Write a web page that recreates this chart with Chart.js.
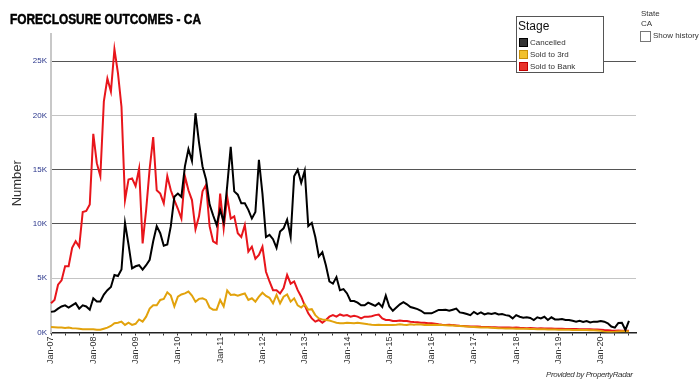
<!DOCTYPE html>
<html><head><meta charset="utf-8">
<script src="https://cdn.jsdelivr.net/npm/chart.js@4/dist/chart.umd.min.js"></script>
<style>
html,body{margin:0;padding:0;background:#fff;}
#wrap{position:relative;width:700px;height:390px;overflow:hidden;font-family:"Liberation Sans",Arial,sans-serif;}
canvas{position:absolute;left:0;top:0;}
.t{position:absolute;white-space:nowrap;line-height:1;}
.sw{position:absolute;left:2px;width:7px;height:7px;border:1px solid #000;}
</style></head><body>
<div id="wrap">
<canvas id="c" width="700" height="390"></canvas>
<div class="t" style="left:10px;top:12px;font-weight:bold;font-size:14px;transform:scaleX(0.85);transform-origin:0 0;color:#000;-webkit-text-stroke:0.5px #000;">FORECLOSURE OUTCOMES - CA</div>
<div style="position:absolute;left:516px;top:16px;width:86px;height:55px;border:1px solid #555;background:#fff;">
  <div class="t" style="left:1px;top:3px;font-size:12px;color:#111;">Stage</div>
  <div class="sw" style="top:21px;background:#333;border-color:#000;"></div>
  <div class="t" style="left:13px;top:22px;font-size:8px;color:#333;">Cancelled</div>
  <div class="sw" style="top:33px;background:#f2c12e;border-color:#c8900a;"></div>
  <div class="t" style="left:13px;top:34px;font-size:8px;color:#333;">Sold to 3rd</div>
  <div class="sw" style="top:45px;background:#e8332a;border-color:#c00000;"></div>
  <div class="t" style="left:13px;top:46px;font-size:8px;color:#333;">Sold to Bank</div>
</div>
<div class="t" style="left:641px;top:10px;font-size:8px;color:#333;">State</div>
<div class="t" style="left:641px;top:20px;font-size:8px;color:#333;">CA</div>
<div style="position:absolute;left:640px;top:31px;width:9px;height:9px;border:1px solid #777;background:#fff;"></div>
<div class="t" style="left:653px;top:32px;font-size:8px;color:#333;">Show history</div>
<div class="t" style="left:546px;top:371px;font-size:8px;font-style:italic;letter-spacing:-0.4px;color:#333;">Provided by PropertyRadar</div>
</div>
<script>
// Monthly counts in thousands, Jan-2007 onward
const cancelled = [1.9,
 1.95, 2.2, 2.4, 2.5, 2.3, 2.5, 2.7, 2.2, 2.5, 2.4,
 2.1, 3.15, 2.85, 2.85, 3.5, 3.9, 4.2, 5.3, 5.2, 5.8,
 10.1, 8.1, 5.9, 6.1, 6.2, 5.8, 6.2, 6.7, 8.4, 9.8,
 9.15, 8.0, 8.1, 9.8, 12.5, 12.8, 12.5, 15.3, 16.9, 15.8,
 20.2, 17.5, 15.3, 14.1, 11.8, 10.8, 9.9, 11.3, 10.2, 13.5,
 17.1, 13.0, 12.7, 11.9, 11.9, 11.3, 10.5, 11.1, 15.9, 12.8,
 8.8, 9.0, 8.6, 7.8, 9.3, 9.6, 10.4, 8.8, 14.4, 15.0,
 13.8, 14.9, 9.8, 10.1, 8.8, 7.0, 7.4, 6.2, 4.7, 4.5,
 5.1, 3.9, 4.0, 3.6, 2.9, 2.9, 2.75, 2.5, 2.5, 2.75,
 2.6, 2.45, 2.7, 2.35, 3.4, 2.4, 2.0, 2.3, 2.6, 2.8,
 2.6, 2.35, 2.25, 2.15, 2.0, 1.77, 1.77, 1.77,
 1.92, 2.08, 2.08, 2.1, 2.0, 2.1, 2.2, 1.85, 1.8, 1.7,
 1.6, 1.9, 1.7, 1.85, 1.66, 1.77, 1.7, 1.8, 1.66, 1.7,
 1.6, 1.55, 1.3, 1.6, 1.45, 1.37, 1.4, 1.34, 1.15, 1.4,
 1.3, 1.45, 1.15, 1.4, 1.2, 1.2, 1.25, 1.15, 1.15, 1.08,
 1.0, 1.08, 0.97, 1.05, 0.92, 1.0, 1.0, 1.05, 1.0, 0.85,
 0.55, 0.45, 0.88, 0.9, 0.23, 1.08];
const soldTo3rd = [0.5,
 0.48, 0.45, 0.45, 0.42, 0.45, 0.4, 0.38, 0.35, 0.3, 0.3,
 0.3, 0.3, 0.25, 0.25, 0.35, 0.45, 0.6, 0.85, 0.9, 1.0,
 0.7, 0.9, 0.7, 0.8, 1.2, 1.0, 1.46, 2.2, 2.5, 2.5,
 3.0, 3.1, 3.7, 3.4, 2.4, 3.3, 3.5, 3.6, 3.77, 3.4,
 2.84, 3.1, 3.15, 3.0, 2.3, 2.1, 2.1, 3.0, 2.4, 3.86,
 3.46, 3.5, 3.4, 3.5, 3.6, 3.0, 3.15, 2.84, 3.3, 3.66,
 3.37, 3.2, 2.69, 3.46, 2.69, 3.3, 3.5, 2.84, 3.15, 2.5,
 2.3, 2.6, 2.1, 2.15, 1.6, 1.3, 1.2, 1.15, 1.1, 1.0,
 0.9, 0.85, 0.85, 0.9, 0.88, 0.85, 0.9, 0.85, 0.8, 0.75,
 0.72, 0.7, 0.72, 0.7, 0.7, 0.68, 0.7, 0.72, 0.75, 0.72,
 0.7, 0.75, 0.72, 0.75, 0.73, 0.7, 0.72, 0.7, 0.72, 0.7,
 0.68, 0.67, 0.65, 0.65, 0.62, 0.6, 0.58, 0.55, 0.52, 0.5,
 0.48, 0.46, 0.45, 0.45, 0.44, 0.42, 0.4, 0.38, 0.37, 0.36,
 0.36, 0.35, 0.35, 0.34, 0.35, 0.33, 0.32, 0.3, 0.3, 0.29,
 0.28, 0.27, 0.27, 0.26, 0.26, 0.25, 0.25, 0.24, 0.24, 0.23,
 0.22, 0.22, 0.21, 0.2, 0.18, 0.15, 0.08, 0.05, 0.05, 0.07,
 0.1, 0.12, 0.12, 0.1];
const soldToBank = [2.7,
 3.0, 4.4, 4.8, 6.1, 6.1, 7.8, 8.4, 7.9, 11.1, 11.2,
 11.8, 18.3, 15.6, 14.4, 21.3, 23.4, 22.2, 26.1, 23.9, 20.8,
 12.2, 14.1, 14.2, 13.5, 15.1, 8.2, 11.3, 15.1, 18.0, 13.1,
 12.8, 11.9, 14.4, 13.1, 12.2, 11.4, 10.5, 14.4, 13.1, 12.2,
 9.5, 10.7, 13.0, 13.6, 9.8, 8.4, 8.2, 12.8, 9.6, 12.5,
 10.5, 10.7, 9.15, 8.8, 9.9, 7.45, 7.9, 6.8, 7.15, 7.9,
 5.6, 4.7, 3.9, 3.9, 3.6, 4.1, 5.3, 4.5, 4.7, 3.9,
 3.3, 2.5, 1.77, 1.3, 1.0, 1.15, 0.9, 1.15, 1.46, 1.6,
 1.46, 1.66, 1.54, 1.6, 1.46, 1.54, 1.46, 1.3, 1.46, 1.46,
 1.5, 1.6, 1.66, 1.3, 1.15, 1.15, 1.07, 1.07, 1.1, 1.07,
 1.05, 1.0, 0.97, 0.95, 0.9, 0.9, 0.85, 0.85, 0.8, 0.75,
 0.72, 0.7, 0.72, 0.68, 0.65, 0.62, 0.6, 0.58, 0.56, 0.55,
 0.55, 0.52, 0.5, 0.5, 0.48, 0.48, 0.46, 0.45, 0.46, 0.45,
 0.44, 0.45, 0.43, 0.42, 0.4, 0.42, 0.4, 0.38, 0.4, 0.37,
 0.37, 0.36, 0.35, 0.34, 0.35, 0.33, 0.33, 0.32, 0.32, 0.31,
 0.3, 0.3, 0.29, 0.28, 0.27, 0.25, 0.22, 0.2, 0.18, 0.17,
 0.18, 0.16, 0.15, 0.15];
const monthNames = ['Jan','Feb','Mar','Apr','May','Jun','Jul','Aug','Sep','Oct','Nov','Dec'];
const startYear = 7;        // 2007
const trailingSlots = 2;    // empty months after the last data point
const yTickValues = [0, 5, 10, 15, 20, 25];
const categories = [];
for (let i = 0; i < cancelled.length + trailingSlots; i++) {
  categories.push(monthNames[i % 12] + '-' + String(startYear + Math.floor(i / 12)).padStart(2, '0'));
}
const FONT = '"Liberation Sans", Arial, sans-serif';
new Chart(document.getElementById('c'), {
  type: 'line',
  data: {
    labels: categories,
    datasets: [
      {label: 'Cancelled', data: cancelled, borderColor: '#000000', borderWidth: 2, pointRadius: 0, tension: 0},
      {label: 'Sold to 3rd', data: soldTo3rd, borderColor: '#e2a20c', borderWidth: 2, pointRadius: 0, tension: 0},
      {label: 'Sold to Bank', data: soldToBank, borderColor: '#e8151b', borderWidth: 2, pointRadius: 0, tension: 0}
    ]
  },
  options: {
    responsive: false, animation: false, events: [],
    layout: {padding: {left: 0, right: 64, top: 34, bottom: 0}},
    plugins: {legend: {display: false}, tooltip: {enabled: false}},
    scales: {
      x: {
        type: 'category', offset: false,
        grid: {display: true, drawOnChartArea: false, drawTicks: true, tickLength: 3,
               color: c => (c.index % 4 === 0 ? '#333' : 'rgba(0,0,0,0)'), lineWidth: 1},
        border: {display: true, color: '#222', width: 1.5},
        ticks: {autoSkip: false, minRotation: 90, maxRotation: 90, padding: 1, color: '#333',
                font: {size: 9, family: FONT},
                callback: (v, i) => (i % 12 === 0 ? categories[i] : '')},
        afterFit: s => { s.height = 57.5; s.paddingLeft = 0; s.paddingRight = 0; }
      },
      y: {
        min: 0, max: 27.5,
        afterBuildTicks: s => { s.ticks = yTickValues.map(v => ({value: v})); },
        ticks: {padding: 4, color: '#28348a', font: {size: 8, family: FONT}, callback: v => v + 'K'},
        grid: {drawTicks: false, lineWidth: 1,
               color: c => { const v = c.tick.value; if (v === 0) return 'rgba(0,0,0,0)'; return (v === 5 || v === 20) ? '#c4c4c4' : '#555'; }},
        border: {display: true, color: '#c8c8c8', width: 2},
        title: {display: true, text: 'Number', color: '#333', font: {size: 13, family: FONT}, padding: {top: 10, bottom: 0}},
        afterFit: s => { s.width = 51; s.paddingTop = 0; s.paddingBottom = 0; }
      }
    }
  }
});
</script>
</body></html>
